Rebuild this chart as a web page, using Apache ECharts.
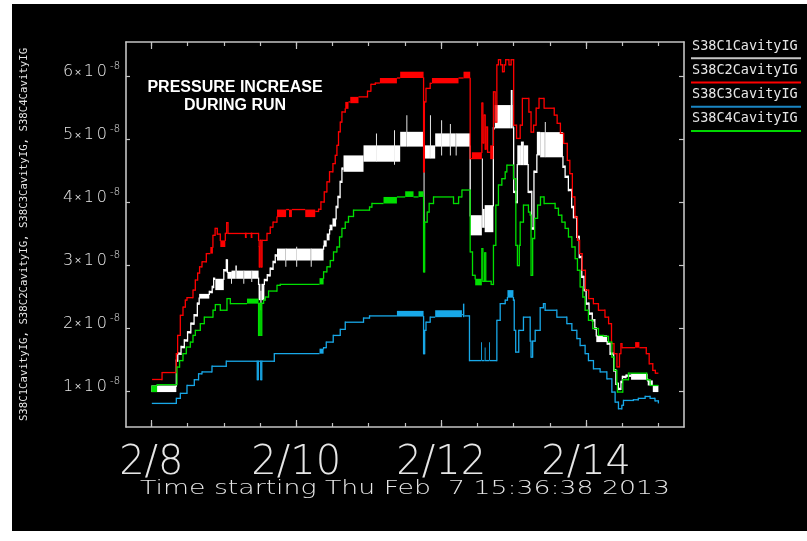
<!DOCTYPE html>
<html>
<head>
<meta charset="utf-8">
<title>S38 cavity pressure</title>
<script src="https://cdn.jsdelivr.net/npm/echarts@6/dist/echarts.min.js"></script>
<style>
  html, body { margin: 0; padding: 0; background: #fff; }
  #wrap { position: relative; width: 807px; height: 541px; background: #fff; overflow: hidden; }
  #panel { position: absolute; left: 12px; top: 4px; width: 795px; height: 527px; background: #000; }
  #chart { position: absolute; left: 0; top: 0; width: 807px; height: 541px; }
</style>
</head>
<body>
<div id="wrap"><div id="panel"></div><div id="chart"></div></div>
<script>
// Gauge names, in plotting order
const seriesNames = ['S38C1CavityIG', 'S38C2CavityIG', 'S38C3CavityIG', 'S38C4CavityIG'];

// Time axis: days since Feb 8 00:00; run starts Thu Feb 7 15:36:38 2013
const startText = 'Time starting Thu Feb  7 15:36:38 2013';
const xStart = -0.3495;
const xEnd = 7.3505;
const dayTicks = [0, 2, 4, 6];
const dayLabels = ['2/8', '2/10', '2/12', '2/14'];
const halfDayTicks = [0, 0.5, 1, 1.5, 2, 2.5, 3, 3.5, 4, 4.5, 5, 5.5, 6, 6.5, 7];

// Pressure axis, in units of 1e-8
const yMin = 0.435;
const yMax = 6.552;
const yTicks = [1, 2, 3, 4, 5, 6];
const yExponent = '-8';

// Readings: [day, value] or [day, low, high] where the gauge toggles within a band.
// Each entry holds until the next one starts.
const s38c1 = [
  [0.0, 0.99, 1.095], [0.345, 1.49], [0.365, 1.60], [0.41, 1.705], [0.455, 1.81],
  [0.50, 1.94], [0.545, 2.077], [0.59, 2.21], [0.635, 2.395], [0.66, 2.475, 2.55],
  [0.80, 2.58], [0.84, 2.66], [0.86, 2.79], [0.883, 2.61, 2.79], [1.0, 2.925],
  [1.035, 3.08], [1.05, 2.79, 2.90], [1.10, 2.71, 2.90], [1.107, 2.79, 2.92],
  [1.16, 2.79, 3.0], [1.18, 2.79, 2.92], [1.27, 2.71, 2.92], [1.28, 2.79, 2.92],
  [1.38, 2.74, 2.92], [1.39, 2.79, 2.92], [1.48, 2.45, 2.71], [1.505, 2.29, 2.60],
  [1.52, 2.45, 2.71], [1.56, 2.77], [1.60, 2.845], [1.64, 2.95], [1.68, 3.056],
  [1.71, 3.16], [1.734, 3.08, 3.27], [1.85, 2.98, 3.27], [1.857, 3.08, 3.27],
  [2.00, 2.98, 3.30], [2.007, 3.08, 3.27], [2.20, 2.98, 3.27], [2.207, 3.08, 3.27],
  [2.377, 3.30, 3.40], [2.42, 3.40, 3.51], [2.46, 3.56, 3.65], [2.50, 3.62, 3.75],
  [2.55, 3.93], [2.575, 4.09], [2.605, 4.33], [2.63, 4.54], [2.652, 4.49, 4.75],
  [2.928, 4.65, 4.91], [3.10, 4.65, 5.10], [3.107, 4.65, 4.91], [3.35, 4.60, 5.15],
  [3.357, 4.65, 4.91], [3.434, 4.89, 5.125], [3.52, 4.89, 5.39], [3.527, 4.89, 5.125],
  [3.757, 3.59, 5.0], [3.77, 4.70, 4.91], [3.845, 4.70, 5.39], [3.852, 4.70, 4.91],
  [3.917, 4.89, 5.10], [4.00, 4.75, 5.31], [4.007, 4.89, 5.10], [4.12, 4.75, 5.25],
  [4.127, 4.89, 5.10], [4.20, 4.75, 5.10], [4.207, 4.89, 5.10], [4.40, 3.48, 3.80],
  [4.561, 3.60, 4.70], [4.575, 3.60, 3.90], [4.60, 3.53, 3.96], [4.72, 5.18],
  [4.74, 5.18, 5.55], [4.96, 5.18, 5.79], [4.985, 5.18, 5.55], [5.0, 4.17],
  [5.03, 4.01], [5.05, 4.595, 4.91], [5.10, 4.595, 4.97], [5.14, 4.595, 4.91],
  [5.20, 4.17], [5.25, 3.59], [5.28, 4.49], [5.32, 4.75, 5.125], [5.366, 4.72, 5.12],
  [5.43, 4.72, 5.28], [5.437, 4.72, 5.12], [5.68, 4.57], [5.71, 4.41], [5.755, 4.20],
  [5.80, 3.93], [5.825, 3.77], [5.87, 3.455], [5.905, 3.136], [5.94, 2.82],
  [5.97, 2.61], [6.00, 2.395], [6.04, 2.236], [6.085, 2.13], [6.12, 2.00],
  [6.14, 1.784, 1.89], [6.29, 1.76], [6.33, 1.60], [6.38, 1.334], [6.41, 1.12],
  [6.445, 1.04], [6.48, 1.15], [6.50, 1.23], [6.55, 1.25], [6.62, 1.186, 1.28],
  [6.85, 1.095, 1.175], [6.92, 0.99, 1.095], [6.997, 0.99, 1.095]
];

const s38c2 = [
  [0.01, 1.19], [0.148, 1.30], [0.345, 1.60], [0.363, 1.89], [0.40, 2.21],
  [0.437, 2.34], [0.469, 2.45], [0.492, 2.49], [0.575, 2.61], [0.607, 2.77],
  [0.639, 2.88], [0.666, 2.98], [0.699, 3.06], [0.759, 3.19], [0.814, 3.19, 3.295],
  [0.85, 3.48], [0.88, 3.59], [0.91, 3.50], [0.952, 3.295, 3.40], [1.021, 3.51],
  [1.040, 3.68], [1.058, 3.51], [1.30, 3.45], [1.305, 3.51], [1.38, 3.45],
  [1.385, 3.51], [1.48, 3.295, 3.40], [1.49, 2.98], [1.50, 3.40], [1.515, 2.98],
  [1.528, 3.40], [1.596, 3.51], [1.641, 3.61], [1.679, 3.69], [1.734, 3.77, 3.89],
  [1.86, 3.89], [1.90, 3.77, 3.89], [1.94, 3.89], [2.124, 3.77, 3.89], [2.262, 3.86],
  [2.308, 3.895], [2.34, 4.01], [2.386, 4.17], [2.423, 4.33], [2.459, 4.49],
  [2.506, 4.62], [2.538, 4.75], [2.561, 4.91], [2.583, 5.125], [2.607, 5.28],
  [2.63, 5.44], [2.676, 5.49, 5.60], [2.721, 5.60], [2.745, 5.58, 5.68], [2.859, 5.68],
  [2.983, 5.77], [3.03, 5.88], [3.09, 5.90], [3.154, 5.895, 5.98], [3.389, 5.98],
  [3.434, 5.98, 6.08], [3.757, 4.49], [3.768, 5.60], [3.79, 5.815], [3.848, 5.895],
  [3.872, 5.895, 5.98], [4.239, 5.98], [4.308, 5.975, 6.08], [4.40, 4.70],
  [4.423, 4.69, 4.80], [4.561, 5.58], [4.575, 4.95], [4.590, 5.39], [4.607, 4.85],
  [4.62, 5.20], [4.64, 4.80], [4.676, 4.69, 4.91], [4.721, 5.76], [4.745, 5.28],
  [4.768, 6.19], [4.79, 6.27], [4.82, 6.19], [4.846, 6.08], [4.87, 6.19],
  [4.89, 6.27], [4.935, 6.19], [4.965, 6.27], [5.0, 5.23], [5.04, 5.02],
  [5.09, 5.23], [5.12, 5.655], [5.21, 5.44], [5.24, 5.12], [5.275, 5.23],
  [5.31, 5.50], [5.35, 5.655], [5.42, 5.50], [5.56, 5.39], [5.60, 5.26],
  [5.645, 5.10], [5.69, 4.94], [5.74, 4.67], [5.775, 4.46], [5.81, 4.09],
  [5.845, 3.77], [5.88, 3.40], [5.91, 3.19], [5.945, 2.925], [5.99, 2.61],
  [6.035, 2.475], [6.10, 2.395], [6.17, 2.29], [6.26, 2.18], [6.31, 2.077],
  [6.35, 1.76], [6.385, 1.60], [6.425, 1.39], [6.46, 1.60], [6.48, 1.76],
  [6.495, 1.695], [6.676, 1.695, 1.784], [6.735, 1.695], [6.83, 1.60], [6.87, 1.44],
  [6.92, 1.334], [6.955, 1.29], [6.997, 1.29]
];

const s38c3 = [
  [0.007, 0.81], [0.345, 0.89], [0.40, 0.97], [0.492, 1.095], [0.593, 1.186],
  [0.652, 1.28], [0.699, 1.31], [0.837, 1.40], [1.034, 1.48], [1.462, 1.19],
  [1.476, 1.48], [1.51, 1.19], [1.524, 1.48], [1.697, 1.60], [2.321, 1.60, 1.68],
  [2.377, 1.695], [2.414, 1.784], [2.510, 1.89], [2.607, 1.986], [2.676, 2.10],
  [2.928, 2.166], [3.011, 2.20], [3.389, 2.19, 2.28], [3.757, 1.60], [3.772, 1.97],
  [3.79, 2.10], [3.848, 2.18], [3.917, 2.18, 2.29], [4.286, 2.22], [4.30, 2.18, 2.395],
  [4.32, 2.20], [4.39, 1.49], [4.55, 1.49, 1.78], [4.555, 1.49], [4.60, 1.49, 1.70],
  [4.605, 1.49], [4.66, 1.49, 1.78], [4.665, 1.49], [4.768, 2.13], [4.814, 2.395],
  [4.883, 2.45], [4.914, 2.49, 2.61], [4.997, 2.45], [5.008, 1.97], [5.028, 1.625],
  [5.07, 1.97], [5.135, 2.18], [5.228, 1.80], [5.24, 1.546], [5.262, 1.80],
  [5.297, 1.97], [5.366, 2.33], [5.411, 2.395], [5.434, 2.29], [5.596, 2.18],
  [5.734, 2.077], [5.803, 1.97], [5.872, 1.84], [5.917, 1.73], [5.986, 1.60],
  [6.032, 1.49], [6.101, 1.36], [6.193, 1.31], [6.286, 1.20], [6.355, 0.99],
  [6.40, 0.83], [6.446, 0.725], [6.493, 0.78], [6.515, 0.857], [6.652, 0.868],
  [6.72, 0.89], [6.814, 0.92], [6.883, 0.89], [6.95, 0.85], [6.997, 0.82]
];

const s38c4 = [
  [0.0, 0.99, 1.095], [0.08, 1.107], [0.354, 1.387], [0.39, 1.49], [0.437, 1.60],
  [0.483, 1.705], [0.538, 1.784], [0.575, 1.89], [0.607, 1.97], [0.676, 2.077],
  [0.731, 2.18], [0.851, 2.29], [0.883, 2.38], [0.952, 2.29], [1.044, 2.475],
  [1.09, 2.395], [1.32, 2.395, 2.475], [1.48, 1.89], [1.49, 2.40], [1.51, 1.89],
  [1.524, 2.40], [1.549, 2.45], [1.572, 2.50], [1.618, 2.595], [1.734, 2.686],
  [1.779, 2.70], [2.321, 2.70, 2.80], [2.377, 2.90], [2.423, 2.98], [2.469, 3.08],
  [2.514, 3.216], [2.561, 3.295], [2.597, 3.455], [2.630, 3.59], [2.676, 3.69],
  [2.721, 3.78], [2.79, 3.88], [3.011, 3.93], [3.044, 3.986], [3.204, 3.986, 4.09],
  [3.389, 4.09], [3.503, 4.09, 4.18], [3.618, 4.09], [3.687, 4.09, 4.18],
  [3.757, 2.90], [3.772, 3.69], [3.807, 3.85], [3.834, 3.986], [3.894, 4.09],
  [4.17, 3.986], [4.24, 4.09], [4.286, 4.20], [4.40, 3.216], [4.432, 2.845],
  [4.469, 2.686, 2.79], [4.561, 3.27], [4.575, 2.75], [4.60, 3.20], [4.615, 2.75],
  [4.69, 2.70], [4.721, 3.32], [4.754, 3.96], [4.79, 4.28], [4.837, 4.38],
  [4.883, 4.49], [4.906, 4.595], [4.997, 4.38], [5.03, 3.32], [5.052, 3.00],
  [5.078, 3.32], [5.09, 3.69], [5.135, 3.96], [5.204, 3.85], [5.228, 3.80],
  [5.24, 2.845], [5.262, 3.43], [5.29, 3.75], [5.33, 3.96], [5.37, 4.09],
  [5.42, 3.986], [5.572, 3.91], [5.618, 3.80], [5.665, 3.69], [5.71, 3.59],
  [5.756, 3.455], [5.803, 3.295], [5.848, 3.11], [5.88, 2.925], [5.917, 2.66],
  [5.954, 2.50], [5.986, 2.29], [6.032, 2.13], [6.092, 2.00], [6.17, 1.89],
  [6.239, 1.875], [6.308, 1.784], [6.355, 1.546], [6.386, 1.334], [6.423, 1.12],
  [6.432, 0.99], [6.506, 1.186], [6.584, 1.29], [6.837, 1.186], [6.883, 1.095],
  [6.997, 1.095]
];

const seriesData = [s38c1, s38c2, s38c3, s38c4];
const seriesColors = ['#ffffff', '#ff0000', '#18a8e8', '#00e000'];
const legendColors = ['#c8c8c8', '#ff0000', '#1a86c4', '#00d800'];
const traceWidths = [2.4, 1.3, 1.3, 1.3];

const frameColor = '#c4c4c4';
const textColor = '#e6e6e6';

// Normalise readings to [day, low, high]
function toBands(rows) {
  return rows.map(r => r.length === 2 ? [r[0], r[1], r[1]] : [r[0], r[1], r[2]]);
}

// Stepped trace: a horizontal run (or filled band) per reading, plus the riser to the next one
function stepSeries(name, rows, color, lw) {
  const bands = toBands(rows);
  return {
    name: name,
    type: 'custom',
    coordinateSystem: 'cartesian2d',
    xAxisIndex: 0,
    yAxisIndex: 0,
    clip: true,
    data: bands,
    encode: { x: 0, y: [1, 2] },
    renderItem: function (params, api) {
      const i = params.dataIndex;
      if (i >= bands.length - 1) return null;
      const cur = bands[i], nxt = bands[i + 1];
      const tl = api.coord([cur[0], cur[2]]);
      const br = api.coord([nxt[0], cur[1]]);
      const top = tl[1], bot = br[1];
      const h = Math.max(bot - top, lw);
      const cy = (top + bot) / 2;
      const children = [{
        type: 'rect',
        shape: { x: tl[0], y: cy - h / 2, width: Math.max(br[0] - tl[0], 0.9), height: h },
        style: { fill: color }
      }];
      const nTop = api.coord([nxt[0], nxt[2]])[1];
      const nBot = api.coord([nxt[0], nxt[1]])[1];
      let y0 = null, y1 = null;
      if (nBot < top) { y0 = nBot; y1 = top; }
      else if (nTop > bot) { y0 = bot; y1 = nTop; }
      if (y0 !== null) {
        children.push({
          type: 'rect',
          shape: { x: br[0] - 0.65, y: y0 - lw / 2, width: 1.3, height: y1 - y0 + lw },
          style: { fill: color }
        });
      }
      return { type: 'group', children: children };
    }
  };
}

function dayLabel(v) {
  for (let k = 0; k < dayTicks.length; k++) {
    if (Math.abs(dayTicks[k] - v) < 1e-6) return dayLabels[k];
  }
  return '';
}

const frameLine = { show: true, onZero: false, lineStyle: { color: frameColor, width: 1.6 } };
const tickStyle = { color: frameColor, width: 1.2 };

function xAxisDef(position, ticks, len, withLine, withLabels) {
  return {
    type: 'value',
    position: position,
    min: xStart,
    max: xEnd,
    axisLine: withLine ? frameLine : { show: false },
    splitLine: { show: false },
    axisTick: { show: true, inside: true, length: len, customValues: ticks, lineStyle: tickStyle },
    axisLabel: withLabels ? {
      show: true,
      customValues: dayTicks,
      formatter: dayLabel,
      color: textColor,
      fontFamily: 'DejaVu Sans',
      fontWeight: 200,
      fontSize: 40,
      margin: 17
    } : { show: false }
  };
}

const option = {
  animation: false,
  backgroundColor: 'transparent',
  grid: { left: 126, right: 123, top: 42, bottom: 114, containLabel: false },
  xAxis: [
    xAxisDef('bottom', dayTicks, 7, true, true),
    xAxisDef('bottom', halfDayTicks, 4, false, false),
    xAxisDef('top', dayTicks, 7, true, false),
    xAxisDef('top', halfDayTicks, 4, false, false)
  ],
  yAxis: [
    {
      type: 'value',
      position: 'left',
      min: yMin,
      max: yMax,
      axisLine: frameLine,
      splitLine: { show: false },
      axisTick: { show: true, inside: true, length: 4, customValues: yTicks, lineStyle: tickStyle },
      axisLabel: {
        show: true,
        customValues: yTicks,
        margin: 6,
        padding: [0, 0, 9, 0],
        formatter: v => '{n|' + v + '}{t|×}{n|1}{z|0}{s|' + yExponent + '}',
        rich: {
          n: { fontFamily: 'DejaVu Sans', fontWeight: 200, fontSize: 16, color: textColor, lineHeight: 22 },
          z: { fontFamily: 'DejaVu Sans', fontWeight: 200, fontSize: 16, color: textColor, lineHeight: 22, padding: [0, 0, 0, 3] },
          t: { fontFamily: 'DejaVu Sans', fontSize: 9, color: textColor, padding: [0, 2, 0, 1] },
          s: { fontFamily: 'DejaVu Sans', fontWeight: 200, fontSize: 10, color: textColor, verticalAlign: 'top', lineHeight: 10, padding: [0, 0, 0, 3] }
        }
      },
      name: seriesNames.join(', '),
      nameLocation: 'middle',
      nameRotate: 90,
      nameGap: 96,
      nameTextStyle: { fontFamily: 'DejaVu Sans Mono', fontSize: 10.7, color: textColor }
    },
    {
      type: 'value',
      position: 'right',
      min: yMin,
      max: yMax,
      axisLine: frameLine,
      splitLine: { show: false },
      axisTick: { show: true, inside: true, length: 5, customValues: yTicks, lineStyle: tickStyle },
      axisLabel: { show: false }
    }
  ],
  graphic: [],
  series: seriesData.map((rows, i) => stepSeries(seriesNames[i], rows, seriesColors[i], traceWidths[i]))
};

// Legend: name with a coloured rule underneath
seriesNames.forEach((name, i) => {
  option.graphic.push({
    type: 'text', left: 692, top: 39 + 24.25 * i, silent: true,
    style: { text: name, fill: textColor, font: '13.5px "DejaVu Sans Mono"' }
  });
  option.graphic.push({
    type: 'line', silent: true,
    shape: { x1: 691, y1: 58.3 + 24.25 * i, x2: 801, y2: 58.3 + 24.25 * i },
    style: { stroke: legendColors[i], lineWidth: 2 }
  });
});

// Annotation
option.graphic.push({
  type: 'text', x: 235, y: 87.5, silent: true,
  style: { text: 'PRESSURE INCREASE', fill: '#ffffff', font: 'bold 16px "Liberation Sans", Arial, sans-serif', textAlign: 'center', textVerticalAlign: 'middle' }
});
option.graphic.push({
  type: 'text', x: 235, y: 106, silent: true,
  style: { text: 'DURING RUN', fill: '#ffffff', font: 'bold 16px "Liberation Sans", Arial, sans-serif', textAlign: 'center', textVerticalAlign: 'middle' }
});

// Time caption under the axis, stretched to span 140..670 px in a thin face
const captionFont = '200 20px "DejaVu Sans"';
const measureCtx = document.createElement('canvas').getContext('2d');
measureCtx.font = captionFont;
const captionWidth = measureCtx.measureText(startText).width || 530;
option.graphic.push({
  type: 'text', x: 140, y: 489, scaleX: 530 / captionWidth, originX: 0, originY: 0, silent: true,
  style: { text: startText, fill: textColor, font: captionFont, textVerticalAlign: 'middle' }
});

const chart = echarts.init(document.getElementById('chart'), null, { renderer: 'canvas' });
chart.setOption(option);
</script>
</body>
</html>
